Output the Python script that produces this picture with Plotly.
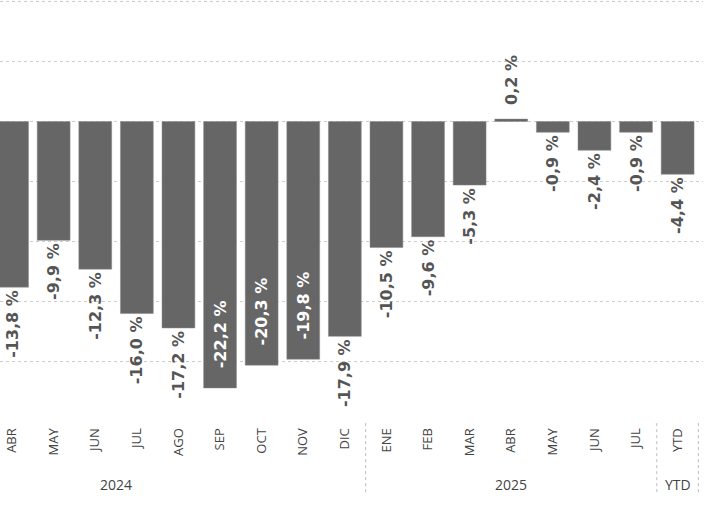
import plotly.graph_objects as go

# Monthly change vs previous year; ENE-MAR 2024 sit off the left edge of the crop
months_2024 = ["ENE", "FEB", "MAR", "ABR", "MAY", "JUN", "JUL", "AGO", "SEP", "OCT", "NOV", "DIC"]
values_2024 = [None, None, None, -13.8, -9.9, -12.3, -16.0, -17.2, -22.2, -20.3, -19.8, -17.9]
months_2025 = ["ENE", "FEB", "MAR", "ABR", "MAY", "JUN", "JUL"]
values_2025 = [-10.5, -9.6, -5.3, 0.2, -0.9, -2.4, -0.9]
ytd_labels = ["YTD"]
ytd_values = [-4.4]

groups = [("2024", months_2024, values_2024),
          ("2025", months_2025, values_2025),
          ("YTD", ytd_labels, ytd_values)]

cats, ticks, vals = [], [], []
for g, ms, vs in groups:
    for m, v in zip(ms, vs):
        cats.append(f"{m} {g}")
        ticks.append(m)
        vals.append(v)

# labels that sit inside the bar (white) vs outside (gray)
inside = {"SEP 2024", "OCT 2024", "NOV 2024"}
positions = ["inside" if c in inside else "outside" for c in cats]
text_colors = ["white" if c in inside else "#555555" for c in cats]
# a little extra room between bar end and label where the original leaves it
templates = []
for c, v in zip(cats, vals):
    pad = 3 if c in inside else (2 if (v or 0) > 0 else 0)
    templates.append("\u00a0" * pad + "%{y:.1f} %")

font = "Segoe UI, Open Sans, sans-serif"
grid_step = 5
grid_top = 10
y_range = [-24.2, 10.12]

fig = go.Figure(go.Bar(
    x=cats,
    y=vals,
    marker=dict(color="#666666", line=dict(color="#8a8a8a", width=0.5)),
    texttemplate=templates,
    textposition=positions,
    insidetextanchor="end",
    textangle=-90,
    constraintext="none",
    cliponaxis=False,
    textfont=dict(family="DejaVu Sans", size=16, color=text_colors, weight="bold"),
))

# group labels and dotted dividers under the month labels
div_style = dict(color="#bdbdbd", width=1, dash="dot")
first = 0
for g, ms, vs in groups:
    last = first + len(ms) - 1
    fig.add_annotation(x=(first + last) / 2, y=0, xref="x", yref="paper",
                       yshift=-72, yanchor="middle", showarrow=False,
                       text=g, font=dict(family=font, size=14, color="#444444"))
    if first > 0:
        fig.add_shape(type="line", xref="x", yref="paper",
                      x0=first - 0.5, x1=first - 0.5, y0=-0.027, y1=-0.2,
                      line=div_style)
    first = last + 1
fig.add_shape(type="line", xref="x", yref="paper",
              x0=first - 0.5, x1=first - 0.5, y0=-0.027, y1=-0.2,
              line=div_style)

# top gridline sits on the plot edge, where plotly drops its own;
# draw it in paper space so it isn't clipped
top_paper = (grid_top - y_range[0]) / (y_range[1] - y_range[0])
fig.add_shape(type="line", xref="paper", yref="paper", x0=0, x1=1,
              y0=top_paper, y1=top_paper,
              line=dict(color="#cccccc", width=1, dash="dot"), layer="below")

fig.update_layout(
    width=720,
    height=527,
    margin=dict(l=0, r=17, t=0, b=115),
    plot_bgcolor="white",
    paper_bgcolor="white",
    separators=",.",
    bargap=0.21,
    showlegend=False,
    xaxis=dict(
        type="category",
        categoryorder="array",
        categoryarray=cats,
        tickvals=cats,
        ticktext=ticks,
        range=[2.71, 19.61],
        tickangle=-90,
        tickfont=dict(family=font, size=13, color="#444444"),
        ticks="outside",
        ticklen=10,
        tickcolor="rgba(0,0,0,0)",
        showgrid=False,
        showline=False,
        zeroline=False,
    ),
    yaxis=dict(
        range=y_range,
        dtick=grid_step,
        showticklabels=False,
        showgrid=True,
        gridcolor="#cccccc",
        griddash="dot",
        gridwidth=1,
        zeroline=False,
        showline=False,
    ),
)

# drop the default page margin so the figure sits flush in the window
fig.write_html("out.html", config={"displayModeBar": False},
               post_script="document.body.style.margin='0';")
